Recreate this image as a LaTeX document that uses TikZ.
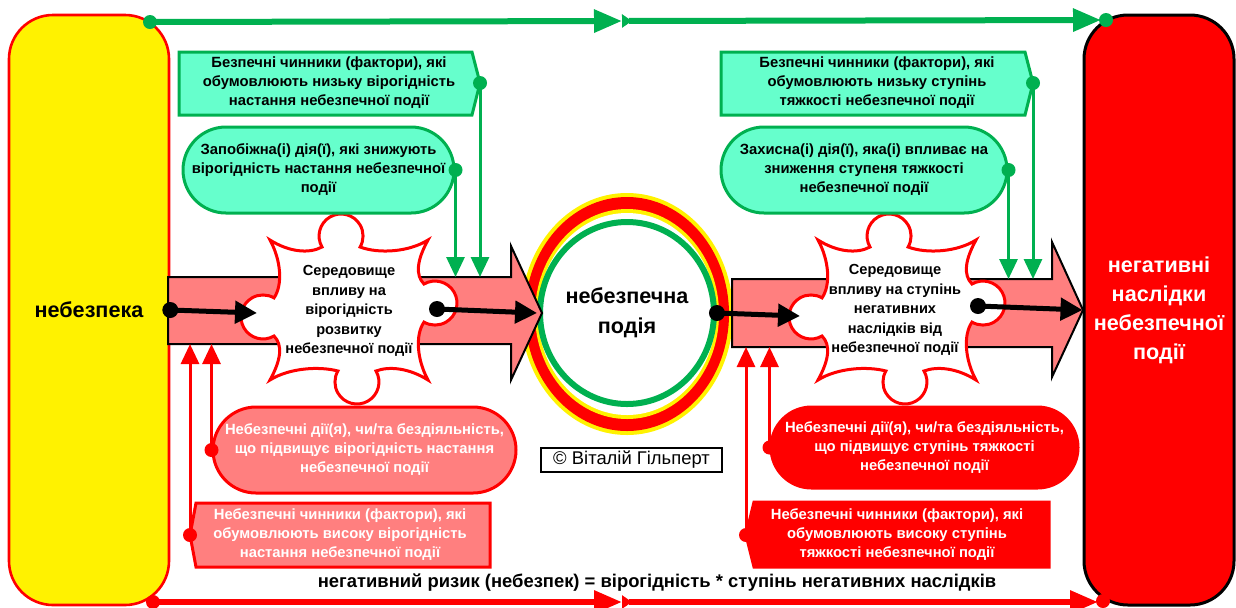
\documentclass[tikz,border=0pt]{standalone}
\usepackage{fontspec}
\setmainfont{Liberation Sans}
\usetikzlibrary{arrows.meta,shapes.misc,shapes.geometric}

\definecolor{safegreen}{HTML}{00B050}
\definecolor{safefill}{HTML}{66FFCC}
\definecolor{harmpink}{HTML}{FF7F7F}

\newcommand{\boxfont}{\bfseries\fontsize{7.4}{9.5}\selectfont}
\newcommand{\envfont}{\bfseries\fontsize{7.3}{9.75}\selectfont}
\newcommand{\bigfont}{\bfseries\fontsize{10.8}{14.5}\selectfont}

\tikzset{
  safebox/.style={draw=safegreen, fill=safefill, line width=1.5pt},
  harmbox/.style={draw=red, fill=harmpink, line width=1.5pt},
  boxtext/.style={font=\boxfont, align=center, inner sep=0pt},
  stadium/.style={rounded rectangle, minimum height=43pt, inner sep=0pt, font=\boxfont, align=center},
  safeline/.style={safegreen, line width=1.5pt, -{Triangle[length=10pt,width=9pt]}},
  harmline/.style={red, line width=1.5pt, -{Triangle[length=10pt,width=9pt]}},
  longline/.style={line width=3pt, -{Triangle[length=14pt,width=11pt]}},
  flow/.style={line width=2.5pt, -{Triangle[length=11pt,width=11pt]}},
  band/.style={draw=black, fill=harmpink, line width=1pt},
  pics/puzzle/.style={code={
    \draw[draw=red, fill=white, line width=1.5pt]
      (-79,-70) .. controls (-60,-58) and (-40,-56) .. (-27,-63)
      arc[start angle=150, end angle=390, radius=22]
      .. controls (30,-56) and (60,-58) .. (79,-70)
      .. controls (68,-50) and (66,-35) .. (75,-26)
      arc[start angle=240, end angle=480, radius=22]
      .. controls (66,25) and (68,50) .. (79,70)
      .. controls (60,58) and (40,56) .. (27,61)
      arc[start angle=330, end angle=570, radius=22]
      .. controls (-30,56) and (-60,58) .. (-79,70)
      .. controls (-68,50) and (-66,35) .. (-75,26)
      arc[start angle=60, end angle=300, radius=22]
      .. controls (-66,-25) and (-68,-50) .. (-79,-70) -- cycle;
  }},
}

\begin{document}
\begin{tikzpicture}[x=0.5pt,y=-0.5pt]
  \useasboundingbox (0,0) rectangle (1236,607);

  % danger and its consequences
  \node[draw=red, fill=yellow, line width=1.3pt, rounded corners=22pt, minimum width=80pt, minimum height=295pt, font=\bigfont] (danger) at (89,310) {небезпека};
  \node[draw=black, fill=red, line width=1.5pt, rounded corners=22pt, minimum width=75pt, minimum height=295pt, text=white, font=\bigfont, align=center] (result) at (1159,310) {негативні\\наслідки\\небезпечної\\події};

  % top and bottom lines
  \coordinate (topA) at (150,22);
  \coordinate (topM) at (622,21);
  \coordinate (topB) at (1101,20);
  \coordinate (topEnd) at (1106,20);
  \draw[longline, safegreen] (topA) -- (topM);
  \draw[longline, safegreen, {Triangle[reversed,length=5pt,width=6.5pt]}-{Triangle[length=14pt,width=11pt]}] (topM) -- (topB);
  \fill[safegreen] (topA) circle[radius=7];
  \fill[safegreen] (topEnd) circle[radius=7];

  \coordinate (botA) at (153,602);
  \coordinate (botM) at (622,602);
  \coordinate (botB) at (1098,602);
  \coordinate (botEnd) at (1103,601);
  \draw[longline, red] (botA) -- (botM);
  \draw[longline, red, {Triangle[reversed,length=5pt,width=6.5pt]}-{Triangle[length=14pt,width=11pt]}] (botM) -- (botB);
  \fill[red] (botA) circle[radius=7];
  \fill[red] (botEnd) circle[radius=7];

  % dangerous event
  \fill[yellow] (627,314) ellipse[x radius=106, y radius=121];
  \fill[red] (627,314) ellipse[x radius=102, y radius=117];
  \fill[yellow] (627,314) ellipse[x radius=92, y radius=105];
  \fill[white] (627,314) ellipse[x radius=89, y radius=101];
  \node[ellipse, draw=safegreen, fill=white, line width=3pt, minimum width=85pt, minimum height=91pt, inner sep=0pt, font=\bfseries\fontsize{10.8}{15}\selectfont, align=center] (event) at (627,313) {небезпечна\\подія};

  % bands
  \draw[band] (168,277) coordinate (bandAnw) -- (511,277) -- (511,246) -- (542,313) -- (511,380) -- (511,344) -- (168,344) coordinate (bandAsw) -- cycle;
  \draw[band] (732,279) coordinate (bandBnw) -- (1052,279) -- (1052,242) -- (1083,310) -- (1052,377) -- (1052,347) -- (732,347) coordinate (bandBsw) -- cycle;

  % environments
  \pic at (349,310) {puzzle};
  \pic at (897,310) {puzzle};
  \node[font=\envfont, align=center, inner sep=0pt] (envProb) at (349,311) {Середовище\\впливу на\\вірогідність\\розвитку\\небезпечної події};
  \node[font=\envfont, align=center, inner sep=0pt] (envSev) at (895,310) {Середовище\\впливу на ступінь\\негативних\\наслідків від\\небезпечної події};

  % safe factors and actions
  \draw[safebox] (179,52) -- (472,52) -- (480,83) coordinate (lowProbTip) -- (472,115) -- (179,115) -- cycle;
  \node[boxtext] (lowProb) at (329,83) {Безпечні чинники (фактори), які\\обумовлюють низьку вірогідність\\настання небезпечної події};
  \node[stadium, safebox, minimum width=135.5pt] (prevent) at (318.5,170) {Запобіжна(і) дія(ї), які знижують\\вірогідність настання небезпечної\\події};
  \draw[safebox] (721,52) -- (1025,52) -- (1033,83) coordinate (lowSevTip) -- (1025,115) -- (721,115) -- cycle;
  \node[boxtext] (lowSev) at (877,83) {Безпечні чинники (фактори), які\\обумовлюють низьку ступінь\\тяжкості небезпечної події};
  \node[stadium, safebox, minimum width=143pt] (protect) at (864,170) {Захисна(і) дія(ї), яка(і) впливає на\\зниження ступеня тяжкості\\небезпечної події};

  % dangerous actions and factors
  \node[stadium, harmbox, text=white, minimum width=151.5pt] (harmProb) at (364.5,450) {Небезпечні дії(я), чи/та бездіяльність,\\що підвищує вірогідність настання\\небезпечної події};
  \draw[harmbox] (196,503) -- (490,503) -- (490,567) -- (196,567) -- (190,535) coordinate (highProbTip) -- cycle;
  \node[boxtext, text=white] (highProb) at (340,535) {Небезпечні чинники (фактори), які\\обумовлюють високу вірогідність\\настання небезпечної події};
  \node[stadium, harmbox, fill=red, text=white, minimum width=153.5pt, minimum height=40.5pt] (harmSev) at (924.5,447.5) {Небезпечні дії(я), чи/та бездіяльність,\\що підвищує ступінь тяжкості\\небезпечної події};
  \draw[harmbox, fill=red] (754,502) -- (1049,502) -- (1049,567) -- (754,567) -- (746,535) coordinate (highSevTip) -- cycle;
  \node[boxtext, text=white] (highSev) at (897,535) {Небезпечні чинники (фактори), які\\обумовлюють високу ступінь\\тяжкості небезпечної події};

  % connectors
  \draw[safeline] (lowProbTip) -- (lowProbTip |- bandAnw);
  \draw[safeline] (prevent.east) -- (prevent.east |- bandAnw);
  \draw[safeline] (lowSevTip) -- (lowSevTip |- bandBnw);
  \draw[safeline] (protect.east) -- (protect.east |- bandBnw);
  \foreach \p in {lowProbTip, prevent.east, lowSevTip, protect.east}
    \fill[safegreen] (\p) circle[radius=7];
  \draw[harmline] (highProbTip) -- (highProbTip |- bandAsw);
  \draw[harmline] (harmProb.west) -- (harmProb.west |- bandAsw);
  \draw[harmline] (highSevTip) -- (highSevTip |- bandBsw);
  \draw[harmline] (harmSev.west) -- (harmSev.west |- bandBsw);
  \foreach \p in {highProbTip, harmProb.west, highSevTip, harmSev.west}
    \fill[red] (\p) circle[radius=7];

  % flow
  \coordinate (envProbIn) at (257,313);
  \coordinate (envProbOut) at (437,309);
  \coordinate (envSevIn) at (800,316);
  \coordinate (envSevOut) at (978,306);
  \draw[flow] (danger.east) -- (envProbIn);
  \draw[flow] (envProbOut) -- (event.west);
  \draw[flow] (event.east) -- (envSevIn);
  \draw[flow] (envSevOut) -- (result.west);
  \foreach \p in {danger.east, envProbOut, event.east, envSevOut}
    \fill (\p) circle[radius=8];

  \node[draw, line width=0.6pt, minimum width=90.5pt, minimum height=12pt, inner sep=0pt, font=\fontsize{9.2}{11}\selectfont] (copyright) at (631.5,460) {© Віталій Гільперт};
  \node[font=\bfseries\fontsize{9.2}{11}\selectfont] (formula) at (657,583) {негативний ризик (небезпек) = вірогідність * ступінь негативних наслідків};
\end{tikzpicture}
\end{document}
